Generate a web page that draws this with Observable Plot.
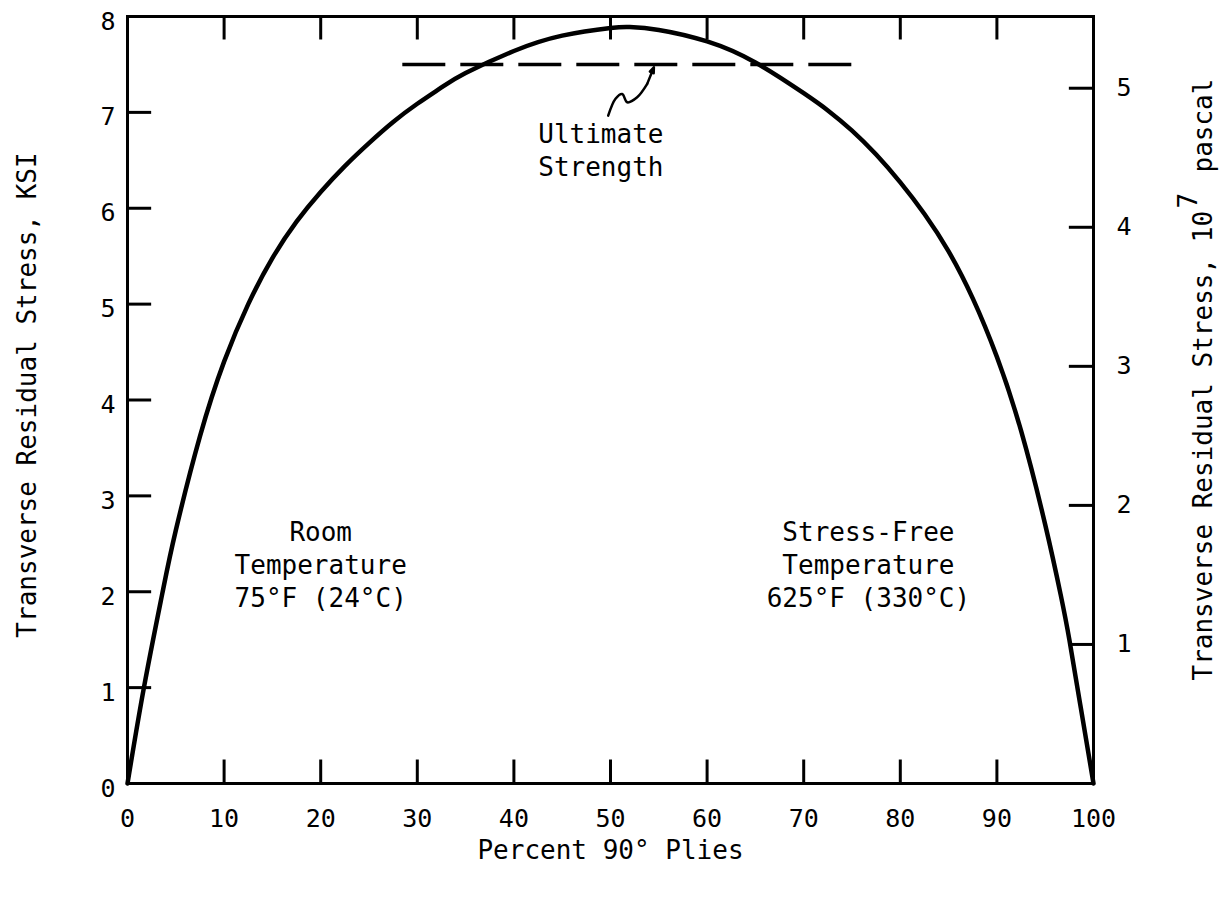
<!DOCTYPE html>
<html>
<head>
<meta charset="utf-8">
<script src="https://cdn.jsdelivr.net/npm/d3@7"></script>
<script src="https://cdn.jsdelivr.net/npm/@observablehq/plot@0.6"></script>
<style>
  html, body { margin: 0; padding: 0; background: #fff; }
</style>
</head>
<body>
<div id="chart"></div>
<script>
// ---- Data ----
const pliesPct  = [0, 1.7, 3.6, 5, 7.5, 10, 12.5, 15, 17.5, 20, 22.5, 25, 27.5, 30, 32.5, 35, 40, 45, 50, 52, 55, 60, 65, 70, 72.5, 75, 77.5, 80, 82.5, 85, 87.5, 90, 92.5, 95, 96.6, 97.5, 98.7, 100];
const stressKsi = [0, 1.0, 1.98, 2.64, 3.62, 4.4, 5.0, 5.48, 5.86, 6.17, 6.44, 6.68, 6.9, 7.09, 7.26, 7.41, 7.64, 7.8, 7.88, 7.89, 7.86, 7.74, 7.52, 7.2, 7.02, 6.81, 6.56, 6.27, 5.94, 5.55, 5.06, 4.45, 3.68, 2.7, 1.97, 1.5, 0.78, 0];

const ultimateStrengthKsi = 7.5;
const ultimateSpanPct = [28.5, 75.9];

const xTicks = [0, 10, 20, 30, 40, 50, 60, 70, 80, 90, 100];
const ksiTicks = [0, 1, 2, 3, 4, 5, 6, 7, 8];
const pascalTicks = [1, 2, 3, 4, 5];           // units of 10^7 pascal
const KSI_TO_1E7PA = 0.6894757;                  // 1 ksi = 0.6895 x 10^7 Pa

const leftTitle = "Transverse Residual Stress, KSI";
const rightTitleMain = "Transverse Residual Stress, 10";
const rightTitleExp = "7";
const rightTitleUnit = "pascal";
const xTitle = "Percent 90° Plies";

const notes = [
  {x: 49, y: 6.62, label: "Ultimate\nStrength"},
  {x: 20, y: 2.3, label: "Room\nTemperature\n75°F (24°C)"},
  {x: 76.7, y: 2.3, label: "Stress-Free\nTemperature\n625°F (330°C)"}
];

const squiggleX = [49.76, 50.52, 51.21, 51.73, 52.76, 53.8];
const squiggleY = [6.966, 7.143, 7.192, 7.105, 7.157, 7.297];
const arrowTip = {x1: 53.8, y1: 7.297, x2: 54.49, y2: 7.471};

// ---- Derived tables ----
const curve = pliesPct.map((p, i) => ({p, s: stressKsi[i]}));
const squiggle = squiggleX.map((x, i) => ({x, y: squiggleY[i]}));
const innerX = xTicks.slice(1, -1);
const innerKsi = ksiTicks.slice(1, -1);
const TICK_Y = 0.245;  // inward tick length in ksi
const TICK_X = 2.5;    // inward tick length in percent

const FONT = "'DejaVu Sans Mono', monospace";

const chart = Plot.plot({
  width: 1226,
  height: 900,
  marginLeft: 127,
  marginRight: 133,
  marginTop: 16,
  marginBottom: 117,
  style: {fontFamily: FONT, fontSize: "26px", color: "black", background: "white"},
  x: {domain: [0, 100], axis: null},
  y: {domain: [0, 8], axis: null},
  marks: [
    // inward ticks
    Plot.ruleX(innerX, {x: d => d, y1: 0, y2: TICK_Y, strokeWidth: 3}),
    Plot.ruleX(innerX, {x: d => d, y1: 8, y2: 8 - TICK_Y, strokeWidth: 3}),
    Plot.ruleY(innerKsi, {y: d => d, x1: 0, x2: TICK_X, strokeWidth: 3}),
    Plot.ruleY(pascalTicks, {y: d => d / KSI_TO_1E7PA, x1: 100, x2: 100 - TICK_X, strokeWidth: 3}),
    // tick labels
    Plot.axisX(xTicks, {anchor: "bottom", tickSize: 0, tickPadding: 26, fontSize: 25, label: null, tickFormat: d => String(d)}),
    Plot.axisY(ksiTicks, {anchor: "left", tickSize: 0, tickPadding: 12, dy: 5, fontSize: 25, label: null, tickFormat: d => String(d)}),
    Plot.axisY(pascalTicks.map(p => p / KSI_TO_1E7PA), {
      anchor: "right", tickSize: 0, tickPadding: 23, fontSize: 25, label: null,
      tickFormat: d => String(Math.round(d * KSI_TO_1E7PA))
    }),
    // frame
    Plot.frame({strokeWidth: 3}),
    // ultimate strength dashed line
    Plot.ruleY([ultimateStrengthKsi], {
      y: d => d, x1: ultimateSpanPct[0], x2: ultimateSpanPct[1],
      strokeWidth: 3.5, strokeDasharray: "43,15"
    }),
    // main curve
    Plot.line(curve, {x: "p", y: "s", curve: "natural", strokeWidth: 4.5}),
    // annotation squiggle + arrow
    Plot.line(squiggle, {x: "x", y: "y", curve: "catmull-rom", strokeWidth: 2.5}),
    Plot.arrow([arrowTip], {x1: "x1", y1: "y1", x2: "x2", y2: "y2", headLength: 16, headAngle: 40, strokeWidth: 2.5}),
    // notes
    Plot.text(notes, {x: "x", y: "y", text: "label", lineHeight: 1.27, fontSize: 26, fontFamily: FONT}),
    // axis titles
    Plot.text([leftTitle], {text: d => d, frameAnchor: "left", textAnchor: "middle", dx: -100, dy: -5, rotate: -90, fontSize: 26, fontFamily: FONT}),
    Plot.text([rightTitleMain], {text: d => d, frameAnchor: "right", dx: 110, dy: 280.5, rotate: -90, textAnchor: "start", fontSize: 26, fontFamily: FONT}),
    Plot.text([rightTitleExp], {text: d => d, frameAnchor: "right", dx: 95, dy: -191.5, rotate: -90, textAnchor: "start", fontSize: 26, fontFamily: FONT}),
    Plot.text([rightTitleUnit], {text: d => d, frameAnchor: "right", dx: 110, dy: -227.5, rotate: -90, textAnchor: "start", fontSize: 26, fontFamily: FONT}),
    Plot.text([xTitle], {text: d => d, frameAnchor: "bottom", textAnchor: "middle", dy: 75, fontSize: 26, fontFamily: FONT})
  ]
});
document.getElementById("chart").appendChild(chart);
</script>
</body>
</html>
